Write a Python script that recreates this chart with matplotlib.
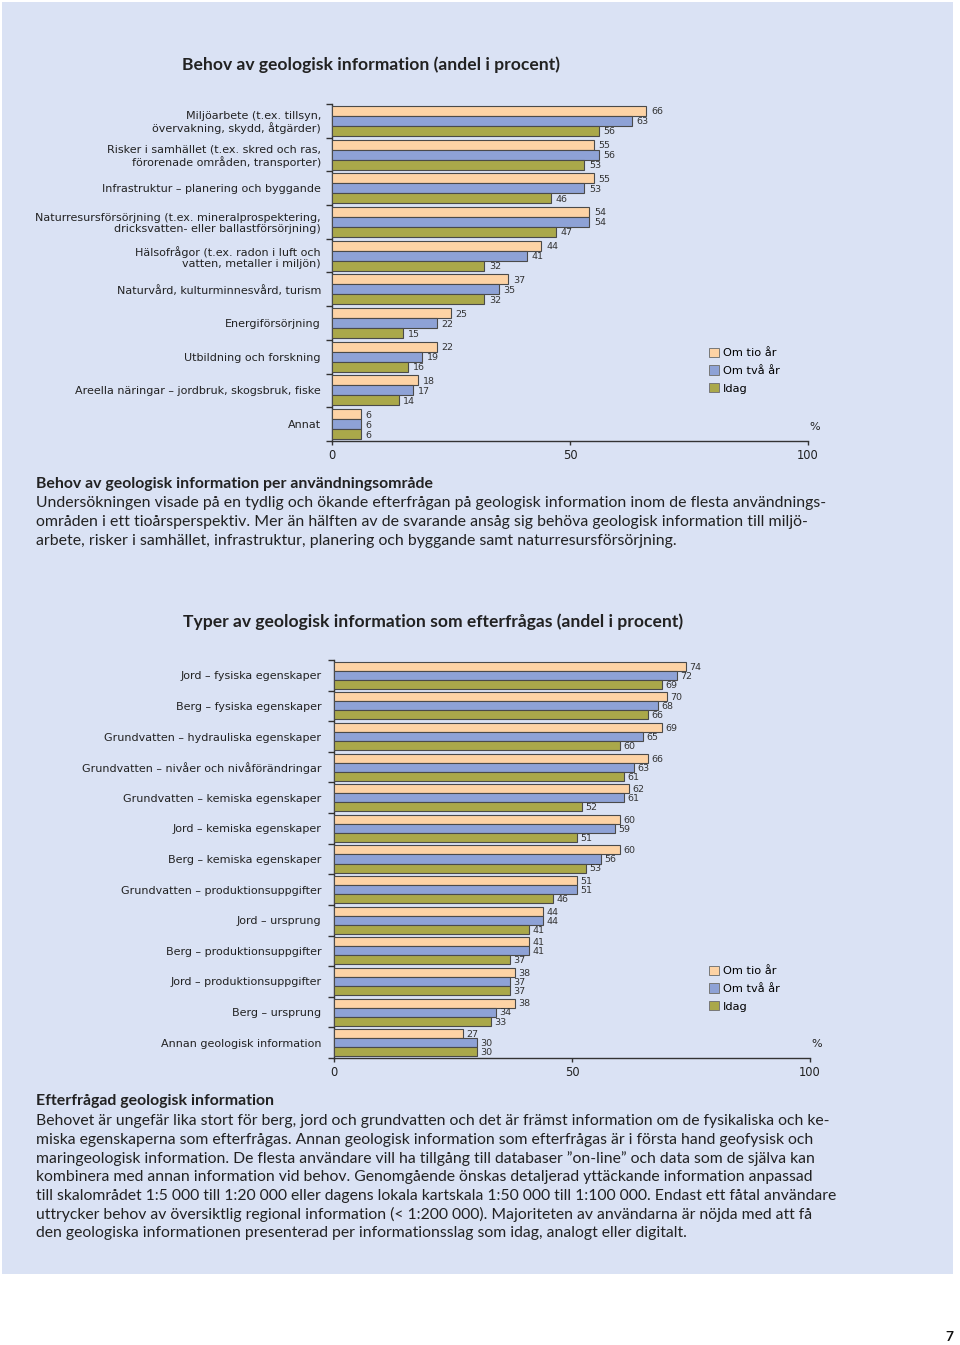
import matplotlib
matplotlib.use("Agg")
from matplotlib import pyplot as plt
from matplotlib.patches import Rectangle, Patch

# data: chart 1
omraden = ['Miljöarbete (t.ex. tillsyn,\növervakning, skydd, åtgärder)',
           'Risker i samhället (t.ex. skred och ras,\nförorenade områden, transporter)',
           'Infrastruktur – planering och byggande',
           'Naturresursförsörjning (t.ex. mineralprospektering,\ndricksvatten- eller ballastförsörjning)',
           'Hälsofrågor (t.ex. radon i luft och\nvatten, metaller i miljön)',
           'Naturvård, kulturminnesvård, turism',
           'Energiförsörjning',
           'Utbildning och forskning',
           'Areella näringar – jordbruk, skogsbruk, fiske',
           'Annat']
omr_tio = [66, 55, 55, 54, 44, 37, 25, 22, 18, 6]
omr_tva = [63, 56, 53, 54, 41, 35, 22, 19, 17, 6]
omr_idag = [56, 53, 46, 47, 32, 32, 15, 16, 14, 6]

# data: chart 2
typer = ['Jord – fysiska egenskaper',
         'Berg – fysiska egenskaper',
         'Grundvatten – hydrauliska egenskaper',
         'Grundvatten – nivåer och nivåförändringar',
         'Grundvatten – kemiska egenskaper',
         'Jord – kemiska egenskaper',
         'Berg – kemiska egenskaper',
         'Grundvatten – produktionsuppgifter',
         'Jord – ursprung',
         'Berg – produktionsuppgifter',
         'Jord – produktionsuppgifter',
         'Berg – ursprung',
         'Annan geologisk information']
typ_tio = [74, 70, 69, 66, 62, 60, 60, 51, 44, 41, 38, 38, 27]
typ_tva = [72, 68, 65, 63, 61, 59, 56, 51, 44, 41, 37, 34, 30]
typ_idag = [69, 66, 60, 61, 52, 51, 53, 46, 41, 37, 37, 33, 30]

serie_namn = ['Om tio år', 'Om två år', 'Idag']
farger = ['#fdd3a5', '#8ea2d6', '#aaa84a']

W, H = 960, 1345
BG = '#dae2f4'
TXT = '#222222'
BODY = ['Lato', 'DejaVu Sans']
CHART = ['DejaVu Sans']

fig = plt.figure(figsize=(W / 100, H / 100), dpi=100)
fig.patch.set_facecolor('white')


def fx(x):
    return x / W


def fy(y):
    return 1 - y / H


fig.patches.append(Rectangle((fx(2), fy(1274)), fx(951), 1272 / H,
                             transform=fig.transFigure, facecolor=BG,
                             edgecolor='none', zorder=-5))


def rita(rect, namn, serier, barh, leg_xy, pad, voff):
    ax = fig.add_axes(rect)
    ax.set_facecolor('none')
    n = len(namn)
    for k, vals in enumerate(serier):
        pos = [i + (k - 1) * barh for i in range(n)]
        ax.barh(pos, vals, height=barh, color=farger[k], edgecolor='#4a4a4a',
                linewidth=0.8, zorder=3)
        for p, v in zip(pos, vals):
            ax.text(v + voff, p + 0.03, str(v), va='center', ha='left', fontsize=6.8,
                    color='#333333', family=CHART)
    ax.set_xlim(0, 100)
    ax.set_ylim(n - 0.5, -0.5)
    ax.set_yticks(range(n))
    ax.set_yticklabels(namn, fontsize=8, color=TXT, family=CHART,
                       linespacing=1.15)
    ax.set_yticks([i - 0.5 for i in range(n + 1)], minor=True)
    ax.tick_params(axis='y', which='major', length=0, pad=pad)
    ax.tick_params(axis='y', which='minor', length=4, width=1, color='#333333')
    ax.set_xticks([0, 50, 100])
    ax.tick_params(axis='x', length=3, width=1, color='#333333', labelsize=8.3,
                   labelcolor=TXT, pad=2.5)
    for lab in ax.get_xticklabels():
        lab.set_family(CHART)
    for s in ['top', 'right']:
        ax.spines[s].set_visible(False)
    for s in ['left', 'bottom']:
        ax.spines[s].set_color('#333333')
        ax.spines[s].set_linewidth(1.0)
    ax.annotate('%', xy=(101.5, n - 0.5), xytext=(0, 10), textcoords='offset points',
                ha='center', va='center', fontsize=8, color=TXT, family=CHART,
                annotation_clip=False)
    handles = [Patch(facecolor=c, edgecolor='#777777', linewidth=0.7) for c in farger]
    ax.legend(handles, serie_namn, loc='upper left',
              bbox_to_anchor=(fx(leg_xy[0]), fy(leg_xy[1])),
              bbox_transform=fig.transFigure, frameon=False,
              handlelength=0.9, handleheight=0.9, handletextpad=0.35,
              labelspacing=0.62, borderpad=0, borderaxespad=0,
              prop={'family': CHART, 'size': 8.2})
    return ax


rita([fx(332), fy(441), 476 / W, 337 / H], omraden,
     [omr_tio, omr_tva, omr_idag], 0.297, (709, 347.5), 8, 1.0)
rita([fx(334), fy(1058), 476 / W, 398 / H], typer,
     [typ_tio, typ_tva, typ_idag], 0.295, (709, 965.5), 9, 0.7)

# titles
fig.text(fx(182), fy(65), 'Behov av geologisk information (andel i procent)',
         fontsize=12.6, fontweight='bold', color=TXT, family=BODY, va='center')
fig.text(fx(183), fy(622), 'Typer av geologisk information som efterfrågas (andel i procent)',
         fontsize=12.6, fontweight='bold', color=TXT, family=BODY, va='center')

# paragraph 1
fig.text(fx(36), fy(484), 'Behov av geologisk information per användningsområde',
         fontsize=11.4, fontweight='bold', color=TXT, family=BODY, va='center')
rader1 = ['Undersökningen visade på en tydlig och ökande efterfrågan på geologisk information inom de flesta användnings-',
          'områden i ett tioårsperspektiv. Mer än hälften av de svarande ansåg sig behöva geologisk information till miljö-',
          'arbete, risker i samhället, infrastruktur, planering och byggande samt naturresursförsörjning.']
for i, r in enumerate(rader1):
    fig.text(fx(36), fy(503 + i * 19), r, fontsize=11.4, color=TXT,
             family=BODY, va='center')

# paragraph 2
fig.text(fx(36), fy(1101), 'Efterfrågad geologisk information',
         fontsize=11.4, fontweight='bold', color=TXT, family=BODY, va='center')
rader2 = ['Behovet är ungefär lika stort för berg, jord och grundvatten och det är främst information om de fysikaliska och ke-',
          'miska egenskaperna som efterfrågas. Annan geologisk information som efterfrågas är i första hand geofysisk och',
          'maringeologisk information. De flesta användare vill ha tillgång till databaser ”on-line” och data som de själva kan',
          'kombinera med annan information vid behov. Genomgående önskas detaljerad yttäckande information anpassad',
          'till skalområdet 1:5 000 till 1:20 000 eller dagens lokala kartskala 1:50 000 till 1:100 000. Endast ett fåtal användare',
          'uttrycker behov av översiktlig regional information (< 1:200 000). Majoriteten av användarna är nöjda med att få',
          'den geologiska informationen presenterad per informationsslag som idag, analogt eller digitalt.']
for i, r in enumerate(rader2):
    fig.text(fx(36), fy(1121 + i * 18.7), r, fontsize=11.3, color=TXT,
             family=BODY, va='center')

fig.text(fx(953), fy(1337), '7', fontsize=10, fontweight='bold', color='#111111',
         family=BODY, va='center', ha='right')

fig.savefig('out.png', dpi=100, facecolor='white')
